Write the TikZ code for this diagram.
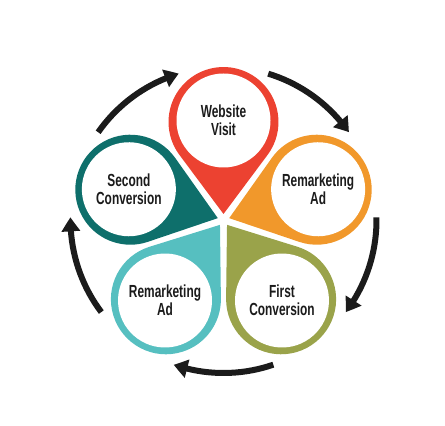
\documentclass[tikz,border=0pt]{standalone}
\usepackage{fontspec}
\newfontfamily\pinfont[FakeStretch=0.68]{Liberation Sans}
\usetikzlibrary{arrows.meta,bending}
\definecolor{pinred}{HTML}{EC4231}
\definecolor{pinorange}{HTML}{F1982B}
\definecolor{pinolive}{HTML}{9AA34A}
\definecolor{pinaqua}{HTML}{56BFC0}
\definecolor{pinteal}{HTML}{0E6F6B}
\definecolor{arrowblack}{HTML}{1B1B1B}
\begin{document}
\begin{tikzpicture}[x=1pt,y=1pt,
  pinlabel/.style={font=\pinfont\bfseries\fontsize{17.5}{18}\selectfont, align=center, text=arrowblack, inner sep=0pt},
  cyc/.style={line width=6pt, draw=arrowblack, -{Triangle[length=14pt,width=18pt,bend]}}]
\useasboundingbox (0,0) rectangle (445,426);
\coordinate (C) at (223.5,206);
\foreach \ang/\col/\nm/\txt in {90/pinred/w/{Website\\Visit}, 18/pinorange/ra/{Remarketing\\Ad}, -54/pinolive/fc/{First\\Conversion}, -126/pinaqua/rb/{Remarketing\\Ad}, -198/pinteal/sc/{Second\\Conversion}} {
  \begin{scope}[shift={(C)}, rotate=\ang, xshift=98pt, rotate=-90]
    \fill[\col] (0,-92) -- (-36.7:55pt) arc[start angle=-36.7, end angle=216.7, radius=55pt] -- cycle;
    \fill[white] (0,1.5) circle[radius=47pt];
    \node[pinlabel] (\nm) at (0,1.5) {\txt};
  \end{scope}
}
\foreach \k in {0,...,4} {
  \coordinate (a\k) at ([shift={({73-72*\k}:153pt)}]C);
  \draw[cyc] (a\k) arc[start angle={73-72*\k}, end angle={35-72*\k}, radius=153pt];
}
\end{tikzpicture}
\end{document}
